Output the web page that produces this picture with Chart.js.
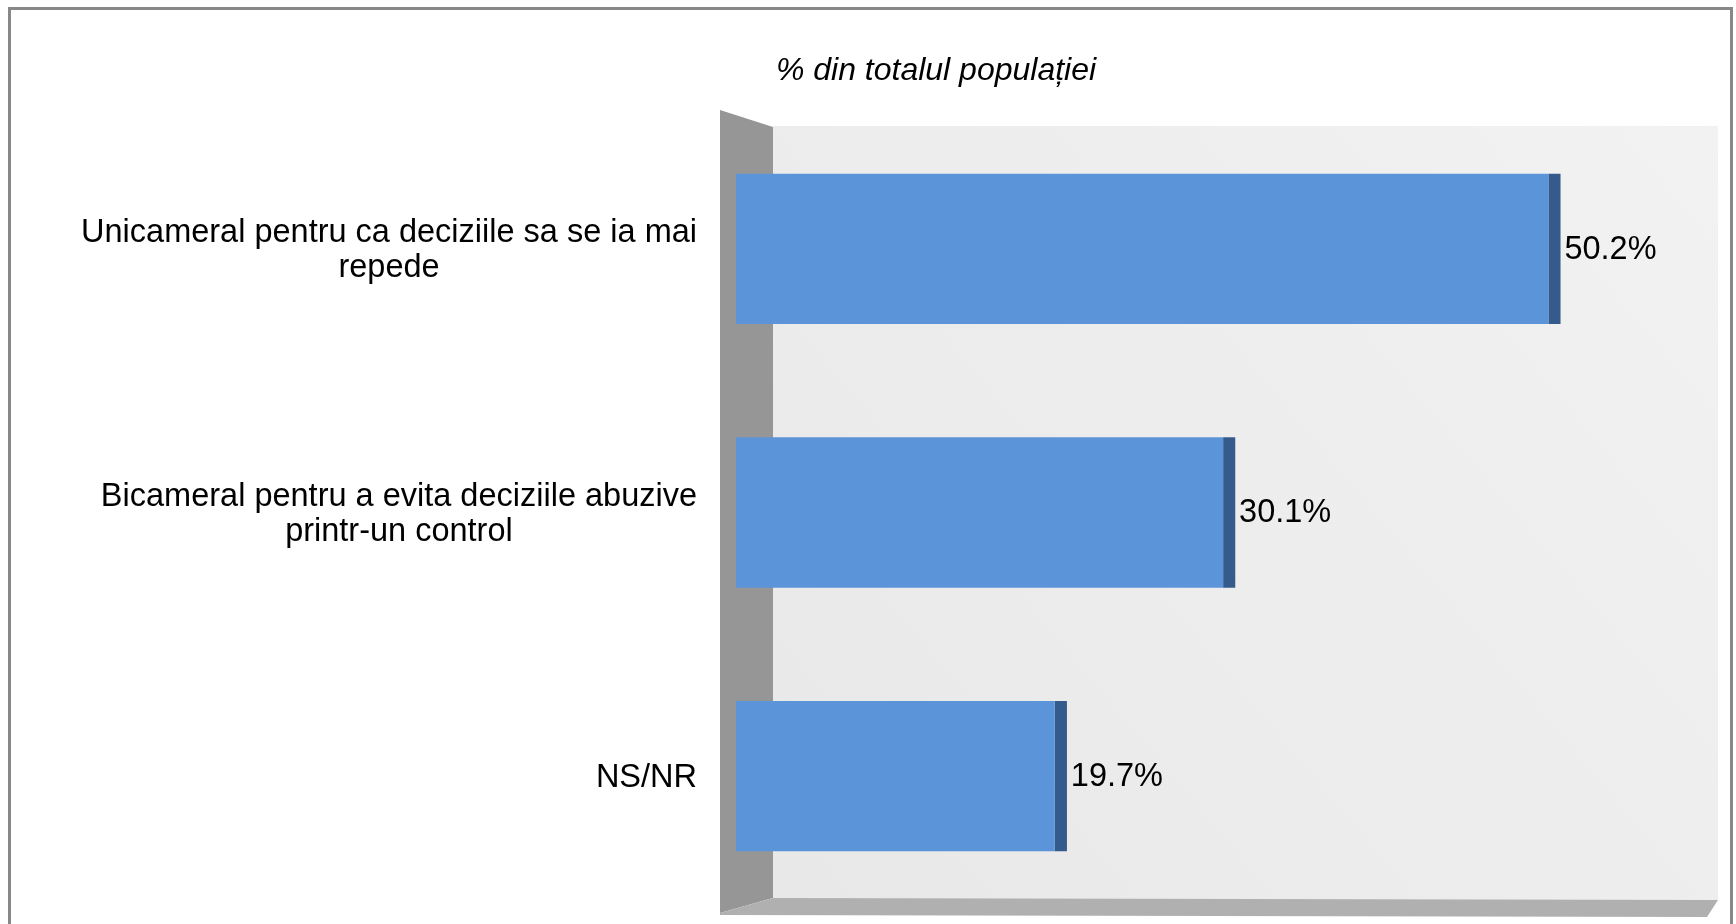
<!DOCTYPE html>
<html>
<head>
<meta charset="utf-8">
<script src="https://cdn.jsdelivr.net/npm/chart.js@4"></script>
<style>
    body { margin: 0; background: #ffffff; }
    #graficCamera { display: block; }
</style>
</head>
<body>
<canvas id="graficCamera" width="1736" height="924"></canvas>
<script>
// Datele graficului
const categorii = [
    ['Unicameral pentru ca deciziile sa se ia mai', 'repede'],
    ['Bicameral pentru a evita deciziile abuzive', 'printr-un control'],
    ['NS/NR']
];
const procente = [50.2, 30.1, 19.7];
const titlu = '% din totalul populației';
const axaMin = 0;
const axaMax = 60;

document.addEventListener('DOMContentLoaded', function() {
    const fontText = '"Liberation Sans", Arial, sans-serif';

    // Pereti 3D, rama si titlu
    const decor = {
        id: 'decor',
        beforeDatasetsDraw(chart) {
            const c = chart.ctx;
            const a = chart.chartArea;
            const xf = a.left - 16, xb = a.left + 37;
            const xr = a.right + 11;

            // perete stang
            c.save();
            c.fillStyle = '#969696';
            c.beginPath();
            c.moveTo(xf, a.top - 7);
            c.lineTo(xb, a.top + 10);
            c.lineTo(xb, a.bottom - 10);
            c.lineTo(xf, a.bottom + 5);
            c.closePath();
            c.fill();

            // perete din spate
            const g = c.createLinearGradient(xb, a.bottom, xr, a.top);
            g.addColorStop(0, '#e8e8e8');
            g.addColorStop(1, '#f2f2f2');
            c.fillStyle = g;
            c.fillRect(xb, a.top + 9, xr - xb, a.bottom - a.top - 17);

            // podea
            c.fillStyle = '#b0b0b0';
            c.beginPath();
            c.moveTo(xf, a.bottom + 5);
            c.lineTo(xb, a.bottom - 10);
            c.lineTo(xr, a.bottom - 8);
            c.lineTo(a.right, a.bottom + 9);
            c.lineTo(xf, a.bottom + 7);
            c.closePath();
            c.fill();
            c.restore();
        },
        afterDraw(chart) {
            const c = chart.ctx;
            const yScale = chart.scales.y;
            const xScale = chart.scales.x;
            c.save();

            // rama exterioara
            c.strokeStyle = '#888888';
            c.lineWidth = 3;
            c.strokeRect(9.5, 8.5, 1722, 940);

            // titlu
            c.fillStyle = '#000000';
            c.font = 'italic 32px ' + fontText;
            c.textAlign = 'center';
            c.textBaseline = 'alphabetic';
            c.fillText(titlu, 936, 80);

            // etichete categorii: bloc aliniat la dreapta, randuri centrate
            c.font = '32.5px ' + fontText;
            c.textBaseline = 'middle';
            const dreapta = 697;
            const inaltimeRand = 35;
            categorii.forEach((linii, i) => {
                const yc = yScale.getPixelForValue(i);
                const latime = Math.max(...linii.map(l => c.measureText(l).width));
                const cx = dreapta - latime / 2;
                linii.forEach((l, j) => {
                    const y = yc + (j - (linii.length - 1) / 2) * inaltimeRand + 2;
                    c.textAlign = 'center';
                    c.fillText(l, cx, y);
                });
            });

            // etichete valori
            c.font = '32.5px "Liberation Sans Narrow", "Arial Narrow", ' + fontText;
            c.textAlign = 'left';
            procente.forEach((v, i) => {
                const x = xScale.getPixelForValue(v) + 16;
                const y = yScale.getPixelForValue(i) + 1;
                c.fillText(v.toFixed(1) + '%', x, y);
            });
            c.restore();
        }
    };

    const ctx = document.getElementById('graficCamera').getContext('2d');
    const graficCamera = new Chart(ctx, {
        type: 'bar',
        data: {
            labels: categorii,
            datasets: [{
                label: 'latura',
                data: procente.map(v => [v, v + 0.75]),
                backgroundColor: '#355b8c',
                barPercentage: 0.57,
                categoryPercentage: 1,
                grouped: false,
                order: 2
            }, {
                label: 'procent',
                data: procente,
                backgroundColor: '#5b94d9',
                barPercentage: 0.57,
                categoryPercentage: 1,
                grouped: false,
                order: 1
            }]
        },
        options: {
            indexAxis: 'y',
            responsive: false,
            animation: false,
            layout: {
                padding: { left: 736, right: 29, top: 117, bottom: 16 }
            },
            scales: {
                x: { display: false, min: axaMin, max: axaMax },
                y: { display: false }
            },
            plugins: {
                legend: { display: false },
                tooltip: { enabled: false }
            }
        },
        plugins: [decor]
    });
});
</script>
</body>
</html>
